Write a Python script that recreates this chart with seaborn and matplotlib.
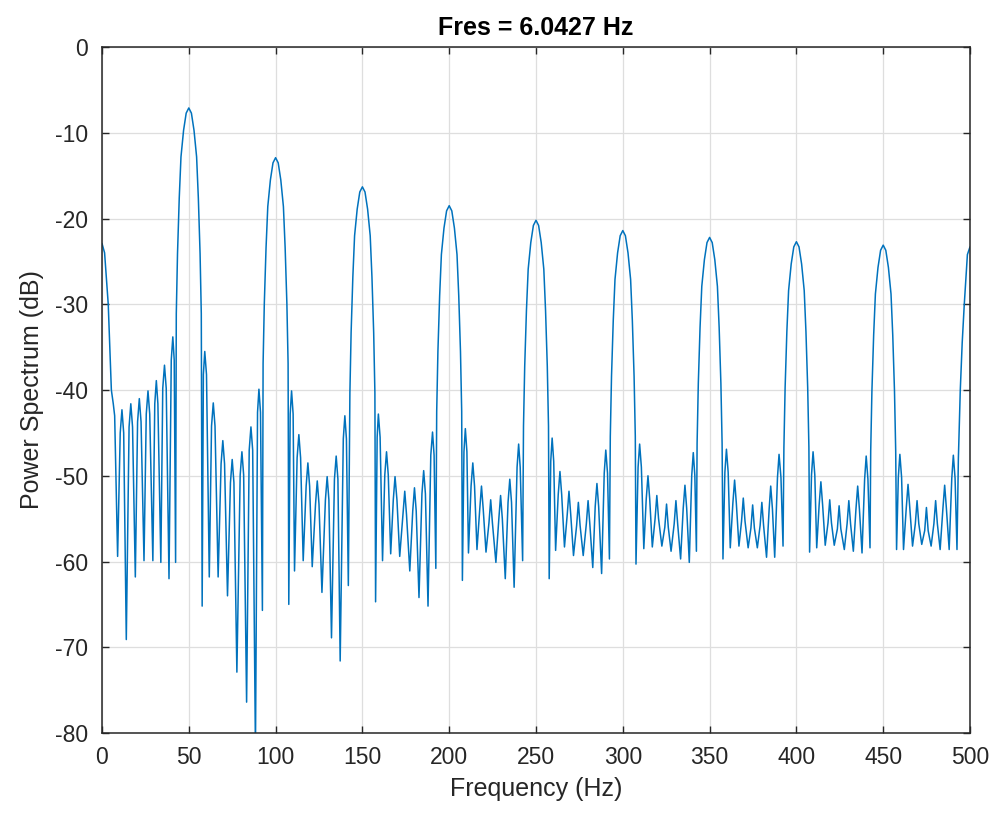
import numpy as np
import pandas as pd
import matplotlib
matplotlib.use('Agg')
import matplotlib.pyplot as plt
import seaborn as sns

# Spectrum, one span per 50 Hz (main lobe peak -> next peak)
f_000 = [0, 1.5, 3.6, 5.4, 6.5, 7.3, 9.0, 10.5, 11.5, 12.5, 14.0, 15.6, 16.6, 17.6, 19.2, 20.5, 21.5,
         22.5, 24.2, 25.5, 26.5, 27.5, 29.3, 30.4, 31.3, 32.2, 33.9, 35.0, 36.0, 37.0, 38.6, 39.9, 40.8,
         41.6, 42.4, 42.8, 43.5, 44.5, 45.5, 47.0, 48.5]
db_000 = [-22.9, -24.0, -30.0, -40.0, -41.6, -43.0, -59.4, -45.0, -42.3, -45.0, -69.1, -44.3, -41.6, -44.3,
          -61.8, -43.7, -41.0, -43.7, -59.9, -42.8, -40.1, -42.8, -59.9, -41.6, -38.9, -41.6, -60.1, -39.8,
          -37.1, -39.8, -62.0, -36.5, -33.8, -36.5, -60.1, -31.1, -24.1, -17.6, -12.8, -9.7, -7.7]

f_050 = [50, 51.5, 53.0, 54.5, 55.5, 56.5, 57.2, 57.7, 58.4, 59.2, 60.2, 61.8, 63.1, 64.1, 65.1, 66.9,
         68.6, 69.6, 70.6, 72.3, 74.0, 75.0, 76.0, 77.7, 79.6, 80.6, 81.6, 83.3, 84.8, 85.8, 86.8, 88.4,
         89.6, 90.4, 91.3, 92.4, 92.8, 93.5, 94.5, 95.5, 97.0, 98.5]
db_050 = [-7.1, -7.7, -9.7, -12.8, -17.6, -24.1, -31.1, -65.2, -38.2, -35.5, -38.2, -61.8, -44.2, -41.5,
          -44.2, -61.8, -48.6, -45.9, -48.6, -64.0, -50.8, -48.1, -50.8, -72.9, -49.9, -47.2, -49.9, -76.4,
          -47.0, -44.3, -47.0, -82.0, -42.6, -39.9, -42.6, -65.7, -36.9, -29.9, -23.4, -18.6, -15.5, -13.5]

f_100 = [100, 101.5, 103.0, 104.5, 105.5, 106.5, 107.2, 107.6, 108.4, 109.2, 110.1, 110.9, 112.4, 113.4,
         114.4, 115.9, 117.6, 118.6, 119.6, 121.1, 123.0, 124.0, 125.0, 126.7, 128.7, 129.7, 130.7, 132.2,
         133.9, 134.9, 135.9, 137.2, 139.0, 139.9, 140.8, 141.9, 142.8, 143.5, 144.5, 145.5, 147.0, 148.5]
db_100 = [-12.9, -13.5, -15.5, -18.6, -23.4, -29.9, -36.9, -65.0, -42.8, -40.1, -42.8, -61.1, -47.9, -45.2,
          -47.9, -59.9, -51.2, -48.5, -51.2, -60.6, -53.3, -50.6, -53.3, -63.6, -52.8, -50.1, -52.8, -68.9,
          -50.4, -47.7, -50.4, -71.6, -45.7, -43.0, -45.7, -62.8, -40.3, -33.3, -26.8, -22.0, -18.9, -16.9]

f_150 = [150, 151.5, 153.0, 154.5, 155.5, 156.5, 157.2, 157.6, 158.5, 159.2, 160.2, 161.6, 162.9, 163.9,
         164.9, 166.3, 167.8, 168.8, 169.9, 171.5, 173.4, 174.4, 175.4, 177.3, 179.0, 180.0, 181.0, 182.6,
         184.3, 185.3, 186.3, 187.8, 189.4, 190.4, 191.3, 192.3, 192.8, 193.5, 194.5, 195.5, 197.0, 198.5]
db_150 = [-16.3, -16.9, -18.9, -22.0, -26.8, -33.3, -40.3, -64.7, -45.5, -42.8, -45.5, -59.9, -49.9, -47.2,
          -49.9, -59.1, -52.8, -50.1, -52.8, -59.4, -54.5, -51.8, -54.5, -61.1, -54.1, -51.4, -54.1, -64.2,
          -52.1, -49.4, -52.1, -65.2, -47.6, -44.9, -47.6, -60.8, -42.5, -35.5, -29.0, -24.2, -21.1, -19.1]

f_200 = [200, 201.5, 203.0, 204.5, 205.5, 206.5, 207.2, 207.6, 208.5, 209.3, 210.2, 211.1, 212.6, 213.6,
         214.6, 216.0, 217.6, 218.6, 219.6, 221.2, 222.9, 223.9, 224.9, 226.9, 228.6, 229.6, 230.6, 232.3,
         233.9, 234.9, 235.9, 237.4, 239.1, 240.0, 240.9, 242.3, 242.8, 243.5, 244.5, 245.5, 247.0, 248.5]
db_200 = [-18.5, -19.1, -21.1, -24.2, -29.0, -35.5, -42.5, -62.2, -47.2, -44.5, -47.2, -59.0, -51.2, -48.5,
          -51.2, -58.6, -53.9, -51.2, -53.9, -58.9, -55.5, -52.8, -55.5, -60.1, -55.0, -52.3, -55.0, -62.0,
          -53.1, -50.4, -53.1, -63.0, -49.0, -46.3, -49.0, -59.9, -44.2, -37.2, -30.7, -25.9, -22.8, -20.8]

f_250 = [250, 251.5, 253.0, 254.5, 255.5, 256.5, 257.2, 257.6, 258.5, 259.3, 260.2, 261.3, 262.8, 263.8,
         264.8, 266.4, 268.0, 269.0, 270.0, 271.6, 273.4, 274.4, 275.4, 277.2, 279.0, 280.0, 281.0, 282.7,
         284.1, 285.1, 286.1, 287.8, 289.3, 290.2, 291.2, 292.3, 292.8, 293.5, 294.5, 295.5, 297.0, 298.5]
db_250 = [-20.2, -20.8, -22.8, -25.9, -30.7, -37.2, -44.2, -62.0, -48.3, -45.6, -48.3, -58.7, -52.2, -49.5,
          -52.2, -58.3, -54.5, -51.8, -54.5, -59.3, -55.8, -53.1, -55.8, -59.3, -55.6, -52.9, -55.6, -60.7,
          -53.6, -50.9, -53.6, -61.4, -49.7, -47.0, -49.7, -59.7, -45.4, -38.4, -31.9, -27.1, -24.0, -22.0]

f_300 = [300, 301.5, 303.0, 304.5, 305.5, 306.5, 307.2, 307.6, 308.8, 309.7, 310.7, 312.1, 313.5, 314.5,
         315.5, 317.0, 318.6, 319.6, 320.6, 322.5, 324.2, 325.2, 326.2, 327.8, 329.6, 330.6, 331.6, 333.3,
         334.8, 335.8, 336.8, 338.3, 339.7, 340.6, 341.5, 342.4, 342.8, 343.5, 344.5, 345.5, 347.0, 348.5]
db_300 = [-21.4, -22.0, -24.0, -27.1, -31.9, -38.4, -45.4, -60.3, -49.0, -46.3, -49.0, -58.5, -52.7, -50.0,
          -52.7, -58.3, -55.0, -52.3, -55.0, -58.2, -56.0, -53.3, -56.0, -58.8, -55.6, -52.9, -55.6, -59.7,
          -53.8, -51.1, -53.8, -60.1, -50.0, -47.3, -50.0, -58.8, -46.2, -39.2, -32.7, -27.9, -24.8, -22.8]

f_350 = [350, 351.5, 353.0, 354.5, 355.5, 356.5, 357.2, 357.7, 358.8, 359.7, 360.7, 361.9, 363.4, 364.4,
         365.4, 366.9, 368.4, 369.4, 370.4, 372.2, 373.8, 374.8, 375.8, 377.5, 379.1, 380.1, 381.1, 382.8,
         384.3, 385.2, 386.2, 387.5, 389.1, 390.0, 391.1, 392.3, 392.8, 393.5, 394.5, 395.5, 397.0, 398.5]
db_350 = [-22.2, -22.8, -24.8, -27.9, -32.7, -39.2, -46.2, -59.7, -49.6, -46.9, -49.6, -58.4, -53.2, -50.5,
          -53.2, -58.2, -55.3, -52.6, -55.3, -58.4, -56.1, -53.4, -56.1, -58.4, -55.8, -53.1, -55.8, -59.5,
          -53.9, -51.2, -53.9, -59.5, -50.2, -47.5, -50.2, -58.2, -46.7, -39.7, -33.2, -28.4, -25.3, -23.3]

f_400 = [400, 401.5, 403.0, 404.5, 405.5, 406.5, 407.2, 407.6, 408.7, 409.6, 410.6, 411.7, 413.1, 414.1,
         415.1, 416.6, 418.2, 419.2, 420.2, 421.8, 423.6, 424.6, 425.6, 427.6, 429.2, 430.2, 431.2, 432.8,
         434.3, 435.3, 436.3, 437.8, 439.3, 440.2, 441.2, 442.4, 442.8, 443.5, 444.5, 445.5, 447.0, 448.5]
db_400 = [-22.7, -23.3, -25.3, -28.4, -33.2, -39.7, -46.7, -58.9, -49.9, -47.2, -49.9, -58.4, -53.4, -50.7,
          -53.4, -58.1, -55.5, -52.8, -55.5, -58.1, -56.2, -53.5, -56.2, -58.6, -55.6, -52.9, -55.6, -58.8,
          -53.9, -51.2, -53.9, -59.0, -50.4, -47.7, -50.4, -58.4, -47.1, -40.1, -33.6, -28.8, -25.7, -23.7]

f_450 = [450, 451.5, 453.0, 454.5, 455.5, 456.5, 457.2, 457.7, 458.7, 459.6, 460.6, 461.7, 463.3, 464.3,
         465.3, 466.9, 468.5, 469.5, 470.5, 472.2, 473.9, 474.9, 475.9, 477.6, 479.2, 480.2, 481.2, 482.8,
         484.4, 485.4, 486.4, 488.0, 489.5, 490.4, 491.4, 492.5, 493.3, 494.4, 495.5, 496.7, 498.5, 500]
db_450 = [-23.1, -23.7, -25.7, -28.8, -33.6, -40.1, -47.1, -58.6, -50.2, -47.5, -50.2, -58.6, -53.7, -51.0,
          -53.7, -58.2, -55.6, -52.9, -55.6, -58.0, -56.4, -53.7, -56.4, -58.2, -55.6, -52.9, -55.6, -58.6,
          -53.8, -51.1, -53.8, -58.6, -50.3, -47.6, -50.3, -58.6, -48.0, -40.0, -34.5, -30.0, -24.2, -23.3]

spans = [(f_000, db_000), (f_050, db_050), (f_100, db_100), (f_150, db_150), (f_200, db_200),
         (f_250, db_250), (f_300, db_300), (f_350, db_350), (f_400, db_400), (f_450, db_450)]
df = pd.DataFrame({
    'freq': np.concatenate([s[0] for s in spans]),
    'power': np.concatenate([s[1] for s in spans]),
})

x_ticks = list(range(0, 501, 50))
y_ticks = list(range(-80, 1, 10))

sns.set_theme(style='whitegrid')
plt.rcParams['font.family'] = ['Liberation Sans', 'DejaVu Sans']
plt.rcParams['axes.unicode_minus'] = False

fig = plt.figure(figsize=(9.96, 8.19), dpi=100)
ax = fig.add_axes([0.1024, 0.105, 0.8715, 0.8375])

sns.lineplot(data=df, x='freq', y='power', ax=ax, color='#0072BD', linewidth=1.1,
             sort=False, estimator=None)

ax.set_xlim(0, 500)
ax.set_ylim(-80, 0)
ax.set_xticks(x_ticks)
ax.set_yticks(y_ticks)
ax.grid(True, color='#dedede', linewidth=0.9)
ax.set_facecolor('white')
for side in ax.spines.values():
    side.set_visible(True)
    side.set_color('#262626')
    side.set_linewidth(1.1)
ax.tick_params(direction='in', length=5, width=1.0, colors='#262626', labelsize=16.5,
               top=True, right=True, bottom=True, left=True, pad=9)
ax.tick_params(axis='y', pad=10)

ax.set_xlabel('Frequency (Hz)', fontsize=18, color='#262626', labelpad=6)
ax.set_ylabel('Power Spectrum (dB)', fontsize=18, color='#262626', labelpad=8)
ax.set_title('Fres = 6.0427 Hz', fontsize=18, fontweight='bold', color='#000000', pad=9)

plt.savefig('out.png', dpi=100)
plt.close()
